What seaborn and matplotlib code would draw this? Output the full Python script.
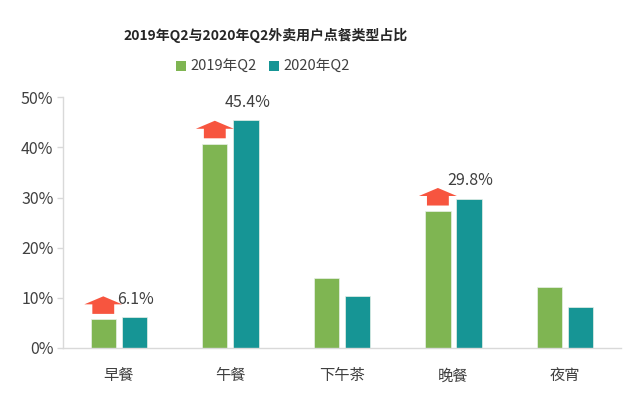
import matplotlib
matplotlib.use("Agg")
import matplotlib.pyplot as plt
from matplotlib.patches import Polygon, Patch
import seaborn as sns
import pandas as pd

categories = ["早餐", "午餐", "下午茶", "晚餐", "夜宵"]
series_names = ["2019年Q2", "2020年Q2"]
values_2019 = [5.7, 40.7, 14.0, 27.3, 12.1]
values_2020 = [6.1, 45.4, 10.4, 29.8, 8.2]
labeled = ["早餐", "午餐", "晚餐"]
yticks = [0, 10, 20, 30, 40, 50]
title = "2019年Q2与2020年Q2外卖用户点餐类型占比"

colors = ["#7FB552", "#169595"]
arrow_color = "#F7553F"
text_color = "#404040"
grid_color = "#D9D9D9"

df = pd.DataFrame({
    "类型": categories * 2,
    "占比": values_2019 + values_2020,
    "年份": [series_names[0]] * len(categories) + [series_names[1]] * len(categories),
})

sns.set_theme(style="white")
plt.rcParams["font.family"] = ["Noto Sans CJK SC", "DejaVu Sans"]

fig = plt.figure(figsize=(6.44, 3.95), dpi=100)
ax = fig.add_axes([0.098, 0.119, 0.866, 0.635])

sns.barplot(data=df, x="类型", y="占比", hue="年份", order=categories,
            hue_order=series_names, palette=colors, saturation=1,
            width=0.56, gap=0.19, edgecolor="#E8F0E8", linewidth=0.5,
            legend=False, ax=ax)

ax.set_xlim(-0.5, len(categories) - 0.5)
ax.set_ylim(0, 50)
ax.set_yticks(yticks)
ax.set_yticklabels([f"{t}%" for t in yticks])
ax.set_xlabel("")
ax.set_ylabel("")

for s in ["top", "right"]:
    ax.spines[s].set_visible(False)
for s in ["left", "bottom"]:
    ax.spines[s].set_color(grid_color)
    ax.spines[s].set_linewidth(1.0)

ax.tick_params(axis="y", which="both", left=True, length=4, width=1,
               color=grid_color, labelsize=11.5, labelcolor=text_color, pad=3)
ax.tick_params(axis="x", bottom=False, labelsize=11, labelcolor=text_color, pad=8)

bars19 = ax.containers[0]
bars20 = ax.containers[1]
for cat in labeled:
    i = categories.index(cat)
    b = bars19[i]
    cx = b.get_x() + b.get_width() / 2
    y0 = values_2019[i] + 1.1
    hw, bw = 0.17, 0.098
    body_h, head_h = 1.9, 1.6
    pts = [(cx - bw, y0), (cx + bw, y0), (cx + bw, y0 + body_h),
           (cx + hw, y0 + body_h), (cx, y0 + body_h + head_h),
           (cx - hw, y0 + body_h), (cx - bw, y0 + body_h)]
    ax.add_patch(Polygon(pts, closed=True, facecolor=arrow_color,
                         edgecolor="none", zorder=5))
    b2 = bars20[i]
    cx2 = b2.get_x() + b2.get_width() / 2
    ax.text(cx2 + 0.01, values_2020[i] + 3.6, f"{values_2020[i]:.1f}%",
            ha="center", va="center", fontsize=11.5, color=text_color)

fig.text(0.413, 0.911, title, ha="center", va="center", fontsize=10,
         fontweight="bold", color="#262626")

handles = [Patch(facecolor=c, edgecolor="none") for c in colors]
fig.legend(handles, series_names, loc="center", bbox_to_anchor=(0.408, 0.831),
           ncol=2, frameon=False, fontsize=10.5, handlelength=0.7,
           handleheight=0.7, handletextpad=0.3, columnspacing=0.8,
           labelcolor=text_color)

fig.savefig("out.png", dpi=100, facecolor="white")
